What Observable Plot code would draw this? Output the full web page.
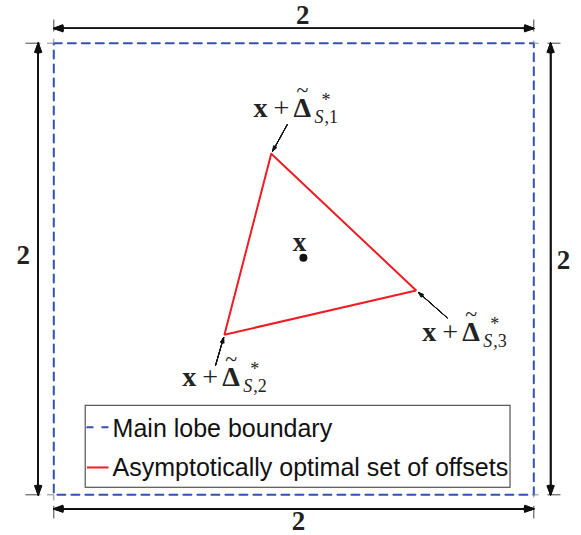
<!DOCTYPE html>
<html><head><meta charset="utf-8">
<script src="https://cdn.jsdelivr.net/npm/d3@7"></script>
<script src="https://cdn.jsdelivr.net/npm/@observablehq/plot@0.6"></script>
<style>body{margin:0;background:#fff}</style>
</head><body><div id="chart"></div>
<script>
// ---- data ----
// Main lobe boundary: square of side 2 centred on x
const boundaryX = [-1, 1, 1, -1, -1];
const boundaryY = [1, 1, -1, -1, 1];
// Asymptotically optimal set of offsets (triangle vertices)
const offsetX = [-0.094, -0.289, 0.510];
const offsetY = [0.510, -0.291, -0.095];
const offsetIndex = ["1", "2", "3"];
// the point x
const centerX = [0.04];
const centerY = [0.05];
// dimension labels (top, bottom, left, right)
const dimLabels = ["2", "2", "2", "2"];
const legendLabels = ["Main lobe boundary", "Asymptotically optimal set of offsets"];

// ---- layout (annotation anchors, in data units) ----
const labelX = [-0.168, -0.465, 0.535];
const labelY = [0.671, -0.516, -0.317];
const arrowFromX = [-0.027, -0.326, 0.639];
const arrowFromY = [0.640, -0.427, -0.216];
const dimOffset = {top: 0.066, bottom: 0.062, left: 0.065, right: 0.070};
const headFill = [6, 12, 18, 24, 30, 36, 42]; // stacked head angles -> solid arrowheads
const pointerFill = [8, 16, 24, 32, 40];

const blue = "#3352ae", red = "#ee1c24";
const serif = "'Liberation Serif','Times New Roman',serif";
const sans = "'Liberation Sans',Arial,sans-serif";

const xmin = d3.min(boundaryX), xmax = d3.max(boundaryX);
const ymin = d3.min(boundaryY), ymax = d3.max(boundaryY);
const xmid = (xmin + xmax) / 2, ymid = (ymin + ymax) / 2;

const square = boundaryX.map((x, i) => ({x, y: boundaryY[i]}));
const tri = [...offsetX, offsetX[0]].map((x, i) => ({x, y: [...offsetY, offsetY[0]][i]}));
const center = centerX.map((x, i) => ({x, y: centerY[i]}));
const labels = labelX.map((x, i) => ({x, y: labelY[i], sub: "," + offsetIndex[i]}));
const pointers = arrowFromX.map((x, i) => ({x1: x, y1: arrowFromY[i], x2: offsetX[i], y2: offsetY[i]}));

const yTop = ymax + dimOffset.top, yBot = ymin - dimOffset.bottom;
const xL = xmin - dimOffset.left, xR = xmax + dimOffset.right;
const dimArrows = [
  {x1: xmid, y1: yTop, x2: xmin, y2: yTop}, {x1: xmid, y1: yTop, x2: xmax, y2: yTop},
  {x1: xmid, y1: yBot, x2: xmin, y2: yBot}, {x1: xmid, y1: yBot, x2: xmax, y2: yBot},
  {x1: xL, y1: ymid, x2: xL, y2: ymax}, {x1: xL, y1: ymid, x2: xL, y2: ymin},
  {x1: xR, y1: ymid, x2: xR, y2: ymax}, {x1: xR, y1: ymid, x2: xR, y2: ymin}
];
const extTicks = [
  {x1: xmin, x2: xmin, y1: ymax + 0.052, y2: ymax + 0.105},
  {x1: xmax, x2: xmax, y1: ymax + 0.052, y2: ymax + 0.105},
  {x1: xmin, x2: xmin, y1: ymin - 0.049, y2: ymin - 0.105},
  {x1: xmax, x2: xmax, y1: ymin - 0.049, y2: ymin - 0.105},
  {x1: xmin - 0.118, x2: xmin - 0.056, y1: ymax, y2: ymax},
  {x1: xmin - 0.118, x2: xmin - 0.056, y1: ymin, y2: ymin},
  {x1: xmax + 0.057, x2: xmax + 0.111, y1: ymax, y2: ymax},
  {x1: xmax + 0.057, x2: xmax + 0.111, y1: ymin, y2: ymin}
];
const cornerTicks = [
  {x1: xmin - 0.028, x2: xmin, y1: ymax, y2: ymax}, {x1: xmin, x2: xmin, y1: ymax + 0.02, y2: ymax},
  {x1: xmin - 0.028, x2: xmin, y1: ymin, y2: ymin}, {x1: xmin, x2: xmin, y1: ymin, y2: ymin - 0.025},
  {x1: xmax, x2: xmax + 0.02, y1: ymax, y2: ymax}, {x1: xmax, x2: xmax, y1: ymax, y2: ymax + 0.012},
  {x1: xmax, x2: xmax + 0.02, y1: ymin, y2: ymin}, {x1: xmax, x2: xmax, y1: ymin, y2: ymin - 0.012}
];
const dimText = [
  {x: 0.037, y: 1.086, t: dimLabels[0]},
  {x: 0.020, y: -1.158, t: dimLabels[1]},
  {x: -1.127, y: 0.023, t: dimLabels[2]},
  {x: 1.124, y: 0.002, t: dimLabels[3]}
];

// legend
const legBox = [{x1: -0.867, x2: 0.903, y1: -0.606, y2: -0.969}];
const legRows = [
  {x1: -0.864, x2: -0.764, y: -0.701, text: legendLabels[0], ty: -0.742},
  {x1: -0.862, x2: -0.772, y: -0.879, text: legendLabels[1], ty: -0.915}
];

const common = {x: "x", y: "y", textAnchor: "start", lineAnchor: "bottom", fontFamily: serif, fill: "#222"};

const chart = Plot.plot({
  width: 581, height: 535,
  margin: 0,
  x: {domain: [-1, 1], range: [53.3, 533.3], axis: null},
  y: {domain: [-1, 1], range: [494.3, 42.7], axis: null},
  style: {background: "white", fontFamily: sans},
  marks: [
    Plot.line(square, {x: "x", y: "y", stroke: blue, strokeWidth: 2, strokeDasharray: "8,6"}),
    Plot.line(tri, {x: "x", y: "y", stroke: red, strokeWidth: 2, strokeLinejoin: "miter"}),
    Plot.link(extTicks, {x1: "x1", y1: "y1", x2: "x2", y2: "y2", stroke: "#444", strokeWidth: 1}),
    Plot.link(cornerTicks, {x1: "x1", y1: "y1", x2: "x2", y2: "y2", stroke: "#888", strokeWidth: 1}),
    ...headFill.map(a => Plot.arrow(dimArrows, {x1: "x1", y1: "y1", x2: "x2", y2: "y2", stroke: "#111", strokeWidth: 1.3, headLength: 11, headAngle: a})),
    Plot.text(dimText, {x: "x", y: "y", text: "t", textAnchor: "middle", lineAnchor: "bottom", fontFamily: serif, fontWeight: "bold", fontSize: 27, fill: "#222"}),
    ...pointerFill.map(a => Plot.arrow(pointers, {x1: "x1", y1: "y1", x2: "x2", y2: "y2", stroke: "#111", strokeWidth: 1, headLength: 8, headAngle: a, insetEnd: 3})),
    Plot.dot(center, {x: "x", y: "y", r: 4, fill: "#111"}),
    Plot.text(center, {x: "x", y: "y", text: () => "x", dx: -4, dy: -7, textAnchor: "middle", lineAnchor: "bottom", fontFamily: serif, fontWeight: "bold", fontSize: 27, fill: "#222"}),
    // math labels x + Δ̃*_{S,i}
    Plot.text(labels, {...common, text: () => "x", fontWeight: "bold", fontSize: 28}),
    Plot.text(labels, {...common, text: () => "+", dx: 20, fontSize: 28}),
    Plot.text(labels, {...common, text: () => "Δ", dx: 40, fontWeight: "bold", fontSize: 28}),
    Plot.text(labels, {...common, text: () => "~", dx: 43, dy: -20, fontSize: 22}),
    Plot.text(labels, {...common, text: () => "*", dx: 68, dy: -11, fontSize: 18}),
    Plot.text(labels, {...common, text: () => "S", dx: 61, dy: 6, fontStyle: "italic", fontSize: 18}),
    Plot.text(labels, {...common, text: "sub", dx: 71, dy: 6, fontSize: 18}),
    // legend
    Plot.rect(legBox, {x1: "x1", x2: "x2", y1: "y1", y2: "y2", fill: "white", stroke: "#555", strokeWidth: 1.2}),
    Plot.link(legRows.slice(0, 1), {x1: "x1", x2: "x2", y1: "y", y2: "y", stroke: blue, strokeWidth: 2, strokeDasharray: "7,8"}),
    Plot.link(legRows.slice(1), {x1: "x1", x2: "x2", y1: "y", y2: "y", stroke: red, strokeWidth: 2}),
    Plot.text(legRows, {x: -0.755, y: "ty", text: "text", textAnchor: "start", lineAnchor: "bottom", fontFamily: sans, fontSize: 25, fill: "#111"})
  ]
});
document.getElementById("chart").append(chart);
</script>
</body></html>
